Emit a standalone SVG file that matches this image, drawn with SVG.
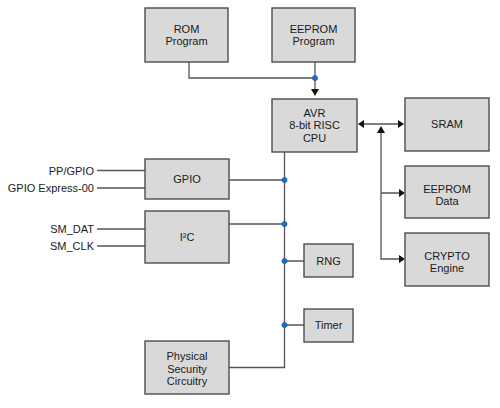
<svg xmlns="http://www.w3.org/2000/svg" width="500" height="408" viewBox="0 0 500 408">
<style>
.box{fill:#d9d9d9;stroke:#4d4d4d;stroke-width:1.4}
.t{font-family:"Liberation Sans",Arial,sans-serif;font-size:11px;fill:#1a1a1a;text-anchor:middle}
.l{font-family:"Liberation Sans",Arial,sans-serif;font-size:11px;fill:#1a1a1a;text-anchor:end}
.w{fill:none;stroke:#555;stroke-width:1.3}
.d{fill:#1b6fd1;stroke:#0d3f80;stroke-width:0.5}
.ah{fill:#111}
</style>
<rect width="500" height="408" fill="#fff"/>
<g id="connectors">
<path class="w" d="M189,62V78H315M315,62V90"/>
<polygon class="ah" points="311,89 319,89 315,96"/>
<path class="w" d="M363,124H399"/>
<polygon class="ah" points="358,124 364,120 364,128"/>
<polygon class="ah" points="404,124 398,120 398,128"/>
<path class="w" d="M381,132V259H399M381,193H399"/>
<polygon class="ah" points="381,126 377,133 385,133"/>
<polygon class="ah" points="405,193 399,189 399,197"/>
<polygon class="ah" points="405,259 399,255 399,263"/>
<path class="w" d="M284.5,152V367.5H229M229,180H284.5M229,224H284.5M284.5,261H304M284.5,325H304"/>
<path class="w" d="M97,170.5H145M97,188H145M97,229H145M97,246H145"/>
<circle class="d" cx="315" cy="78" r="2.6"/>
<circle class="d" cx="284.5" cy="180" r="2.6"/>
<circle class="d" cx="284.5" cy="224" r="2.6"/>
<circle class="d" cx="284.5" cy="261" r="2.6"/>
<circle class="d" cx="284.5" cy="325" r="2.6"/>
</g>
<g id="rom"><rect class="box" x="145" y="8" width="83" height="54"/><text class="t" x="186.5" y="33">ROM</text><text class="t" x="186.5" y="45">Program</text></g>
<g id="eeprom-program"><rect class="box" x="272" y="8" width="83" height="54"/><text class="t" x="313.5" y="33">EEPROM</text><text class="t" x="313.5" y="45">Program</text></g>
<g id="cpu"><rect class="box" x="272" y="99" width="85" height="53"/><text class="t" x="314.5" y="117">AVR</text><text class="t" x="314.5" y="129.3">8-bit RISC</text><text class="t" x="314.5" y="141.6">CPU</text></g>
<g id="sram"><rect class="box" x="405" y="98" width="84" height="53"/><text class="t" x="447" y="128">SRAM</text></g>
<g id="eeprom-data"><rect class="box" x="405" y="166" width="84" height="52"/><text class="t" x="447" y="193">EEPROM</text><text class="t" x="447" y="205">Data</text></g>
<g id="crypto"><rect class="box" x="405" y="233" width="84" height="53"/><text class="t" x="447" y="260">CRYPTO</text><text class="t" x="447" y="272">Engine</text></g>
<g id="gpio"><rect class="box" x="145" y="159" width="84" height="40"/><text class="t" x="187" y="182.5">GPIO</text></g>
<g id="i2c"><rect class="box" x="145" y="211" width="84" height="52"/><text class="t" x="187" y="240.5">I²C</text></g>
<g id="rng"><rect class="box" x="304" y="244" width="49" height="33"/><text class="t" x="328.5" y="265">RNG</text></g>
<g id="timer"><rect class="box" x="304" y="309" width="49" height="33"/><text class="t" x="328.5" y="328.8">Timer</text></g>
<g id="physical"><rect class="box" x="145" y="341" width="84" height="53"/><text class="t" x="187" y="360.3">Physical</text><text class="t" x="187" y="372.8">Security</text><text class="t" x="187" y="385.3">Circuitry</text></g>
<g id="labels">
<text class="l" x="94" y="174.5">PP/GPIO</text>
<text class="l" x="94" y="192">GPIO Express-00</text>
<text class="l" x="94" y="233">SM_DAT</text>
<text class="l" x="94" y="250">SM_CLK</text>
</g>
</svg>
